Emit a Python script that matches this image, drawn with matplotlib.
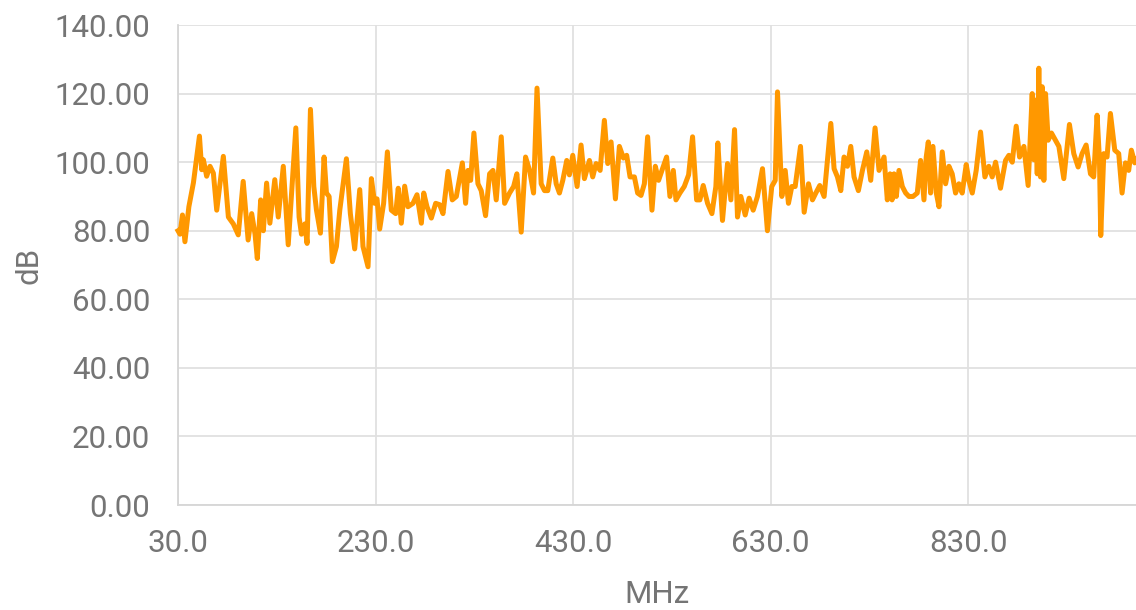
import matplotlib
matplotlib.use("Agg")
import matplotlib.pyplot as plt
from matplotlib.ticker import FormatStrFormatter, MultipleLocator

# frequency (MHz) and level (dB)
freq_a = [30, 32, 34.5, 37, 41, 45.6, 51.7, 54, 55.7, 59, 62.4, 65.8, 69.2, 75.9, 81, 86, 91, 96, 101,
          104.6, 108, 110.3, 113.7, 116.4, 119.7, 123, 128, 131.5, 136.6, 141.6, 145]
db_a = [80, 79, 84.6, 76.8, 87, 94, 107.6, 97.8, 100.7, 95.9, 98.8, 96.8, 86, 101.7, 84, 82, 78.8, 94.4, 77.3,
        85, 79, 71.9, 89, 80, 93.9, 82.2, 94.9, 84, 98.8, 75.9, 91]

freq_b = [149.3, 152.6, 155, 158.4, 160.7, 164.1, 167.5, 170.2, 174.2, 177.9, 180.3, 183, 186.3, 190.4, 193.8,
          200.5, 204.5, 208.9, 214, 217.3, 222.4, 225.8, 229.1, 231.5, 234.2, 238.2, 242, 246, 250.4, 253,
          256.1, 259.5, 262.8, 267.9, 272]
db_b = [110, 84, 79, 82, 76.3, 115.4, 92.9, 86, 79.3, 101.5, 91, 90, 71, 75.4, 86,
        101, 85, 74.7, 92, 75.4, 69.5, 95.2, 88, 89.3, 80.5, 88, 103, 86, 85, 92.4,
        82.2, 93, 87, 88, 90.5]

freq_c = [276.4, 278.8, 282.1, 286.5, 290.9, 294.9, 298.3, 303.4, 307.7, 311.8, 317.9, 321.2, 323.6, 326.3,
          329.6, 333.7, 337, 341.4, 345.5, 348.9, 352.2, 357.3, 360.7, 365.7, 369.8, 373.1, 377.5, 381.9,
          386, 390, 393.5]
db_c = [82.2, 91, 87, 83.7, 88, 87.6, 85, 97.3, 89, 90, 99.8, 88, 97.6, 94.7,
        108.5, 93.7, 91.7, 84.4, 96.6, 97.6, 89, 107.4, 88, 91, 92.9, 96.6, 79.6, 101.5,
        97.6, 91, 121.6]

freq_d = [397.7, 401.1, 404.4, 409.5, 412.9, 416.2, 419.6, 423.6, 426.3, 429.7, 434.1, 438.1, 441.5, 446.6,
          449.9, 453.3, 457.4, 461.7, 465.1, 468.5, 472.9, 476.9, 481, 484.3, 487.7, 492.1, 495.4, 498.8,
          502.2, 505.5, 509.9]
db_d = [93.7, 91.7, 91.7, 101.2, 93.7, 91, 94.7, 100.5, 96.3, 102, 92.9, 105, 95.2, 100.5,
        95.7, 99.6, 97.6, 112.2, 99.6, 105.9, 89.3, 104.6, 101.2, 102, 95.7, 95.7, 91, 90.3,
        93.7, 107.4, 86]

freq_e = [513.3, 516.6, 520, 524.7, 528.1, 531.5, 534.2, 538.2, 542.6, 547, 551, 555.1, 558.4, 561.8, 566.2,
          570.6, 574.6, 576.6, 581.3, 586.4, 589.8, 593.5, 596.5, 599.9, 604.3, 608.3, 612.4, 616.7, 621.8,
          626.8, 631.2, 634.7]
db_e = [98.8, 94.7, 97.6, 101.5, 90, 97.6, 89, 91, 92.9, 96.3, 107.4, 89, 89, 93.2, 88,
        85, 92.9, 105.6, 83, 99.6, 89, 109.5, 84, 90, 84.6, 89.5, 86, 90, 98.1,
        80, 92.9, 94.7]

freq_f = [637, 641.4, 644.8, 648.1, 651.5, 654.9, 660.3, 664, 668.4, 672.4, 675.8, 679.8, 684.2, 691, 694.3,
          697.7, 701.1, 704.4, 707.8, 711.2, 714.5, 718.9, 723, 727.4, 731.4, 735.8, 739.8, 744.9, 748.2,
          751, 753, 755, 757.3, 760, 763.4, 766.8, 770.1, 774.2, 778.5, 781.9, 785.3, 787.6, 789.7, 792,
          794.4, 797.8, 800.5, 803.8, 807.2, 810.6, 813.9, 817.3, 820.7, 824, 828.1, 830.8, 834.2, 838.2,
          842.6, 847, 851, 854.4, 857.8, 862.8, 867.9]
db_f = [120.5, 90, 97.6, 88, 92.9, 92.9, 104.6, 85.4, 93.7, 89, 91, 93.2, 90, 111.3, 98.1,
        95.7, 91.7, 101.5, 98.8, 104.6, 95.7, 91.7, 97.6, 103, 94.7, 110, 97.6, 101.5, 89,
        96.6, 89, 96.6, 90, 97.6, 92.9, 91, 90, 90, 91, 100.5, 89, 101.5, 105.9, 91,
        104.6, 91, 87, 103, 93.7, 98.8, 96.6, 91, 93.7, 91, 99.3, 94.7, 91, 97.6,
        108.8, 95.7, 98.8, 95.7, 100, 92.4, 100.5]

freq_g = [871.3, 874.7, 878.7, 882.1, 886.5, 890.8, 894.9, 896.6, 898.3, 900, 901.6, 903.3, 905, 906.7,
          908.4, 911.1, 914.4, 918.5, 921.9, 926.9, 932.6, 937, 941.4, 945.4, 949.5, 953.9, 957.2, 960.6,
          963, 964.3, 967.4, 970.7, 974.1, 978.5, 982.5, 985.9, 989.3, 992.6, 995.3, 998.7, 1000]
db_g = [102, 100, 110.5, 101.5, 104.6, 93.2, 120, 100.7, 118.1, 96.6, 127.4, 95.7, 122, 94.7,
        120, 106.4, 108.5, 106.4, 104.6, 95.2, 111, 102.5, 98.6, 102.5, 105, 96.6, 95.7, 113.7,
        100.7, 78.6, 102.5, 101.5, 114.2, 103.5, 102.5, 91, 99.8, 97.6, 103.5, 99.8, 101]

freq = freq_a + freq_b + freq_c + freq_d + freq_e + freq_f + freq_g
db = db_a + db_b + db_c + db_d + db_e + db_f + db_g

x_ticks = [30, 230, 430, 630, 830]

plt.rcParams['font.family'] = ['Roboto', 'DejaVu Sans']
text_color = '#757575'
grid_color = '#e0e0e0'

fig = plt.figure(figsize=(11.36, 6.10), dpi=100)
ax = fig.add_axes([0.1567, 0.172, 0.8433, 0.787])

ax.plot(freq, db, color='#FF9800', linewidth=3.6, solid_joinstyle='round', zorder=3, clip_on=False)

ax.set_xlim(30, 1000)
ax.set_ylim(0, 140)
ax.set_xticks(x_ticks)
ax.yaxis.set_major_locator(MultipleLocator(20))
ax.xaxis.set_major_formatter(FormatStrFormatter('%.1f'))
ax.yaxis.set_major_formatter(FormatStrFormatter('%.2f'))

ax.grid(True, color=grid_color, linewidth=1.3)
ax.set_axisbelow(True)
for s in ['top', 'right']:
    ax.spines[s].set_visible(False)
for s in ['left', 'bottom']:
    ax.spines[s].set_color('#d6d6d6')
    ax.spines[s].set_linewidth(1.3)

ax.tick_params(axis='both', length=0, labelsize=22.5, labelcolor=text_color)
ax.tick_params(axis='y', pad=20)
ax.tick_params(axis='x', pad=17)

ax.set_xlabel('MHz', fontsize=22.5, color=text_color, labelpad=16)
ax.set_ylabel('dB', fontsize=22.5, color=text_color, labelpad=8)

fig.savefig('out.png', dpi=100)
